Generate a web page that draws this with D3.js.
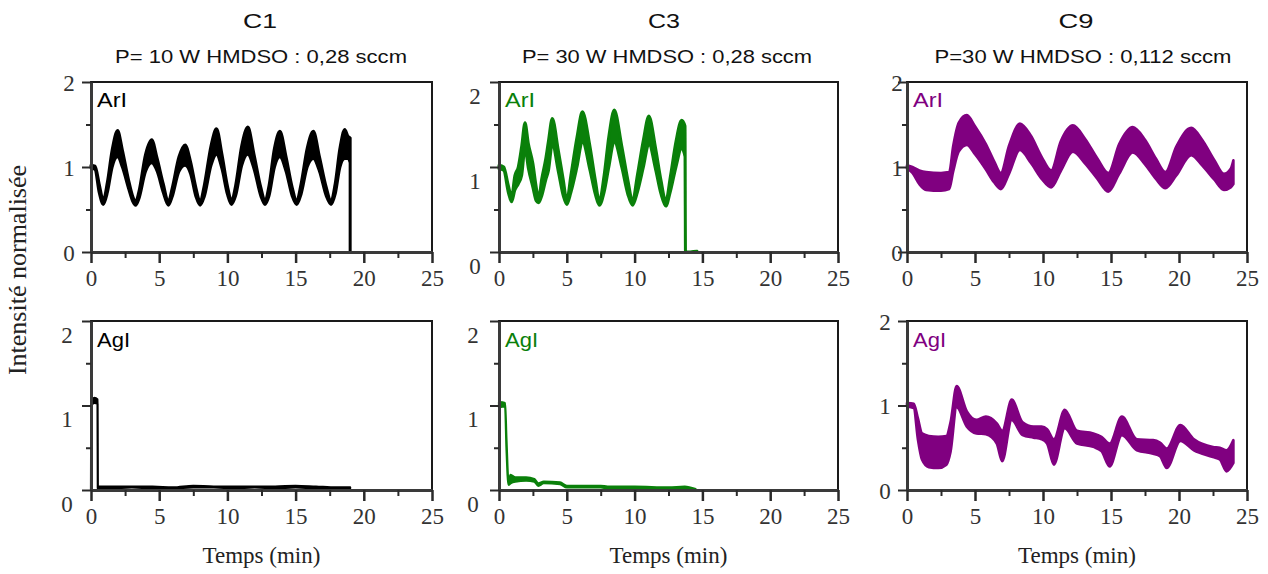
<!DOCTYPE html>
<html>
<head>
<meta charset="utf-8">
<script src="https://cdn.jsdelivr.net/npm/d3@7/dist/d3.min.js"></script>
<style>
  html, body { margin: 0; padding: 0; background: #fff; }
  svg { display: block; }
</style>
</head>
<body>
<svg id="chart" width="1268" height="574"></svg>
<script>
// ---------------- DATA ----------------
const columnTitles = ["C1", "C3", "C9"];
const columnSubtitles = ["P= 10 W HMDSO : 0,28 sccm", "P= 30 W HMDSO : 0,28 sccm", "P=30 W HMDSO : 0,112 sccm"];
const rowLabels = ["ArI", "AgI"];
const xTicks = [0, 5, 10, 15, 20, 25];
const xMinorTicks = [2.5, 7.5, 12.5, 17.5, 22.5];
const yTicks = [0, 1, 2];
const yMinorTicks = [0.5, 1.5];
const xAxisTitle = "Temps (min)";
const yAxisTitle = "Intensité normalisée";

// each point: [time (min), lower envelope, upper envelope]
const c1ArI = [
  [0, 0.99, 1.02], [0.3, 0.97, 1.01], [0.6, 0.7, 0.8], [0.9, 0.56, 0.61], [1.2, 0.7, 0.82],
  [1.55, 1.0, 1.2], [1.95, 1.12, 1.43], [2.3, 1.0, 1.2], [2.75, 0.75, 0.85], [3.05, 0.6, 0.66],
  [3.27, 0.55, 0.59], [3.5, 0.62, 0.7], [4.0, 0.95, 1.15], [4.45, 1.05, 1.32], [4.85, 0.95, 1.1],
  [5.3, 0.7, 0.8], [5.67, 0.55, 0.59], [5.95, 0.65, 0.75], [6.45, 0.95, 1.12], [6.9, 1.02, 1.26],
  [7.3, 0.92, 1.06], [7.7, 0.65, 0.75], [8.0, 0.55, 0.59], [8.3, 0.65, 0.78], [8.8, 1.02, 1.25],
  [9.2, 1.15, 1.45], [9.6, 0.98, 1.15], [10.0, 0.68, 0.78], [10.3, 0.56, 0.6], [10.6, 0.66, 0.78],
  [11.05, 1.02, 1.25], [11.5, 1.15, 1.47], [11.95, 0.98, 1.15], [12.45, 0.66, 0.76], [12.76, 0.56, 0.6],
  [13.05, 0.66, 0.78], [13.45, 1.0, 1.22], [13.85, 1.12, 1.42], [14.3, 0.95, 1.12], [14.75, 0.66, 0.76],
  [15.08, 0.56, 0.6], [15.4, 0.68, 0.8], [15.85, 1.0, 1.22], [16.3, 1.1, 1.42], [16.75, 0.95, 1.12],
  [17.25, 0.66, 0.76], [17.6, 0.56, 0.6], [17.9, 0.68, 0.8], [18.25, 1.0, 1.22], [18.6, 1.1, 1.44],
  [18.85, 1.1, 1.36], [19.0, 1.05, 1.34], [19.0, 0, 0]
];
const c1AgI = [
  [0, 0, 0], [0.02, 1.0, 1.06], [0.25, 1.03, 1.09], [0.48, 1.02, 1.07], [0.5, 0.02, 0.04],
  [1.5, 0.02, 0.04], [3, 0.03, 0.04], [4.5, 0.02, 0.04], [6, 0.02, 0.03], [7.5, 0.03, 0.05],
  [9, 0.03, 0.04], [10.5, 0.02, 0.04], [12, 0.03, 0.04], [13.5, 0.02, 0.04], [15, 0.03, 0.05],
  [16.5, 0.02, 0.04], [18, 0.02, 0.03], [19.0, 0.02, 0.03]
];
const c3ArI = [
  [0, 0.98, 1.02], [0.35, 0.96, 1.0], [0.69, 0.7, 0.78], [0.93, 0.59, 0.65], [1.17, 0.73, 0.9],
  [1.42, 0.8, 1.0], [1.67, 0.9, 1.24], [1.92, 1.22, 1.52], [2.16, 0.99, 1.28], [2.5, 0.76, 1.04],
  [2.75, 0.6, 0.76], [2.92, 0.58, 0.63], [3.15, 0.66, 0.86], [3.45, 0.85, 1.1], [3.65, 0.96, 1.31],
  [3.93, 1.27, 1.57], [4.37, 0.95, 1.2], [4.74, 0.66, 0.85], [5.0, 0.56, 0.61], [5.3, 0.7, 0.9],
  [5.75, 1.0, 1.35], [6.15, 1.3, 1.65], [6.7, 0.97, 1.25], [7.1, 0.68, 0.85], [7.4, 0.55, 0.6],
  [7.75, 0.7, 0.9], [8.1, 1.0, 1.36], [8.5, 1.3, 1.67], [9.05, 1.0, 1.25], [9.5, 0.68, 0.85],
  [9.85, 0.55, 0.6], [10.2, 0.7, 0.9], [10.65, 1.0, 1.32], [11.05, 1.27, 1.6], [11.55, 0.97, 1.22],
  [11.95, 0.68, 0.84], [12.3, 0.54, 0.6], [12.65, 0.72, 0.9], [13.05, 1.0, 1.3], [13.47, 1.22, 1.55],
  [13.72, 1.12, 1.48], [13.75, 0, 0], [14.6, 0, 0.01]
];
const c3AgI = [
  [0, 0.98, 1.04], [0.45, 0.99, 1.03], [0.55, 0.5, 0.6], [0.7, 0.06, 0.1], [0.85, 0.08, 0.18],
  [1.2, 0.1, 0.15], [2.0, 0.11, 0.15], [2.6, 0.1, 0.13], [2.9, 0.05, 0.08], [3.3, 0.08, 0.1],
  [4.5, 0.07, 0.09], [5.0, 0.03, 0.05], [7.5, 0.03, 0.05], [8.0, 0.02, 0.04], [10, 0.02, 0.04],
  [12.5, 0.02, 0.03], [13.7, 0.02, 0.04], [14.5, 0, 0.01]
];
const c9ArI = [
  [0, 0.98, 1.02], [0.4, 0.93, 1.0], [0.9, 0.8, 0.96], [1.4, 0.73, 0.94], [2.5, 0.72, 0.93],
  [3.1, 0.74, 0.94], [3.4, 0.95, 1.25], [3.8, 1.18, 1.52], [4.4, 1.26, 1.61], [5.0, 1.15, 1.48],
  [5.8, 0.97, 1.27], [6.4, 0.82, 1.07], [6.9, 0.74, 0.93], [7.5, 0.92, 1.25], [8.3, 1.2, 1.51],
  [9.1, 1.05, 1.37], [9.9, 0.86, 1.12], [10.6, 0.76, 0.96], [11.3, 0.95, 1.3], [12.2, 1.18, 1.49],
  [13.1, 1.04, 1.33], [14.0, 0.86, 1.1], [14.8, 0.71, 0.93], [15.6, 0.92, 1.27], [16.6, 1.17, 1.47],
  [17.5, 1.03, 1.32], [18.3, 0.86, 1.1], [19.0, 0.75, 0.94], [19.8, 0.9, 1.24], [20.9, 1.14, 1.46],
  [21.7, 1.02, 1.32], [22.6, 0.85, 1.08], [23.3, 0.73, 0.92], [23.8, 0.76, 0.98], [24.0, 0.8, 1.08]
];
const c9AgI = [
  [0, 0.99, 1.03], [0.5, 0.97, 1.02], [0.8, 0.6, 0.85], [1.1, 0.36, 0.67], [1.6, 0.27, 0.64],
  [2.3, 0.26, 0.63], [2.9, 0.3, 0.64], [3.2, 0.45, 0.8], [3.65, 0.98, 1.23], [4.4, 0.75, 0.93],
  [5.1, 0.67, 0.83], [5.8, 0.66, 0.87], [6.6, 0.55, 0.79], [7.0, 0.34, 0.7], [7.7, 0.83, 1.07],
  [8.5, 0.65, 0.8], [9.3, 0.62, 0.75], [9.9, 0.6, 0.75], [10.3, 0.55, 0.72], [10.8, 0.3, 0.6],
  [11.6, 0.73, 0.95], [12.5, 0.55, 0.7], [13.7, 0.51, 0.67], [14.3, 0.46, 0.63], [14.9, 0.28, 0.55],
  [15.8, 0.65, 0.87], [16.9, 0.47, 0.6], [18.1, 0.43, 0.59], [18.6, 0.4, 0.56], [19.1, 0.26, 0.49],
  [20.1, 0.58, 0.77], [21.1, 0.47, 0.6], [22.5, 0.39, 0.51], [23.0, 0.36, 0.5], [23.5, 0.22, 0.47],
  [24.0, 0.32, 0.59]
];
const columnColors = ["#000000", "#0a800a", "#800080"];
const seriesGrid = [[c1ArI, c3ArI, c9ArI], [c1AgI, c3AgI, c9AgI]];

// ---------------- LAYOUT / STYLE ----------------
const SANS = "'Liberation Sans', Arial, sans-serif";
const SERIF = "'Liberation Serif', 'Times New Roman', serif";
const colX = [[91, 432], [499, 838], [907, 1247]];
const rowY = [[82, 252], [321, 490]];
// y tick label placement per panel [row][col]: horizontal offset from axis, vertical shift
const yLabDx = [[-22, -24, -10], [-24, -26, -22]];
const yLabDy = [[0, 13, 0], [13, 13, 0]];
// stroke width of each band outline [row][col]
const bandStroke = [[3, 3, 2.6], [2.2, 2.2, 2.6]];
const titleStyle = [
  { cx: 260, w: 34 }, { cx: 664, w: 32 }, { cx: 1076, w: 35 }
];
const subStyle = [
  { cx: 261, w: 292 }, { cx: 667, w: 290 }, { cx: 1083, w: 297 }
];
const labelBaseline = [107, 347];
const labelW = [30, 33];

const svg = d3.select("#chart");

// column titles
columnTitles.forEach((t, c) => {
  svg.append("text").text(t)
    .attr("x", titleStyle[c].cx).attr("y", 28)
    .attr("text-anchor", "middle")
    .attr("font-family", SANS).attr("font-size", 21)
    .attr("textLength", titleStyle[c].w).attr("lengthAdjust", "spacingAndGlyphs")
    .attr("fill", "#111");
  svg.append("text").text(columnSubtitles[c])
    .attr("x", subStyle[c].cx).attr("y", 63)
    .attr("text-anchor", "middle")
    .attr("font-family", SANS).attr("font-size", 18.5)
    .attr("textLength", subStyle[c].w).attr("lengthAdjust", "spacingAndGlyphs")
    .attr("fill", "#111");
});

for (let r = 0; r < 2; r++) {
  for (let c = 0; c < 3; c++) {
    const [x0, x1] = colX[c];
    const [y0, y1] = rowY[r];
    const x = d3.scaleLinear().domain([0, 25]).range([x0, x1]);
    const y = d3.scaleLinear().domain([0, 2]).range([y1, y0]);
    const g = svg.append("g");
    const color = columnColors[c];

    // curve as band
    const area = d3.area()
      .curve(d3.curveMonotoneX)
      .x(d => x(d[0])).y0(d => y(d[1])).y1(d => y(d[2]));
    g.append("path").datum(seriesGrid[r][c])
      .attr("d", area)
      .attr("fill", color).attr("stroke", color)
      .attr("stroke-width", bandStroke[r][c]).attr("stroke-linejoin", "round");

    // frame (top / right)
    g.append("rect").attr("x", x0).attr("y", y0)
      .attr("width", x1 - x0).attr("height", y1 - y0)
      .attr("fill", "none").attr("stroke", "#1a1a1a").attr("stroke-width", 2);

    // left axis, major
    const ay = g.append("g").attr("transform", `translate(${x0},0)`)
      .call(d3.axisLeft(y).tickValues(yTicks).tickSize(9).tickSizeOuter(0).tickFormat(d3.format("d")));
    ay.select(".domain").attr("stroke", "#3a3a3a").attr("stroke-width", 3);
    ay.selectAll(".tick line").attr("stroke", "#2a2a2a").attr("stroke-width", 2);
    ay.selectAll(".tick text")
      .attr("x", yLabDx[r][c]).attr("dy", "0.35em")
      .attr("transform", `translate(0,${yLabDy[r][c]})`)
      .attr("text-anchor", "middle")
      .attr("font-family", SERIF).attr("font-size", 23).attr("fill", "#333");
    // left axis, minor
    const ayMin = g.append("g").attr("transform", `translate(${x0},0)`)
      .call(d3.axisLeft(y).tickValues(yMinorTicks).tickSize(5).tickFormat(""));
    ayMin.select(".domain").remove();
    ayMin.selectAll(".tick line").attr("stroke", "#2a2a2a").attr("stroke-width", 2);

    // bottom axis, major
    const ax = g.append("g").attr("transform", `translate(0,${y1})`)
      .call(d3.axisBottom(x).tickValues(xTicks).tickSize(11).tickSizeOuter(0).tickFormat(d3.format("d")));
    ax.select(".domain").attr("stroke", "#3a3a3a").attr("stroke-width", 3);
    ax.selectAll(".tick line").attr("stroke", "#2a2a2a").attr("stroke-width", 2.5);
    ax.selectAll(".tick text")
      .attr("y", 34).attr("dy", 0)
      .attr("font-family", SERIF).attr("font-size", 23).attr("fill", "#333");
    // bottom axis, minor
    const axMin = g.append("g").attr("transform", `translate(0,${y1})`)
      .call(d3.axisBottom(x).tickValues(xMinorTicks).tickSize(6).tickFormat(""));
    axMin.select(".domain").remove();
    axMin.selectAll(".tick line").attr("stroke", "#2a2a2a").attr("stroke-width", 2);

    // series label
    g.append("text").text(rowLabels[r])
      .attr("x", x0 + 6).attr("y", labelBaseline[r])
      .attr("font-family", SANS).attr("font-size", 20)
      .attr("textLength", labelW[r]).attr("lengthAdjust", "spacingAndGlyphs")
      .attr("fill", color);

    // x axis title for bottom row
    if (r === 1) {
      g.append("text").text(xAxisTitle)
        .attr("x", (x0 + x1) / 2).attr("y", 563)
        .attr("text-anchor", "middle")
        .attr("font-family", SERIF).attr("font-size", 23)
        .attr("fill", "#222");
    }
  }
}

// y axis title
svg.append("text").text(yAxisTitle)
  .attr("transform", "translate(26,270) rotate(-90)")
  .attr("text-anchor", "middle")
  .attr("font-family", SERIF).attr("font-size", 26)
  .attr("fill", "#222");
</script>
</body>
</html>
